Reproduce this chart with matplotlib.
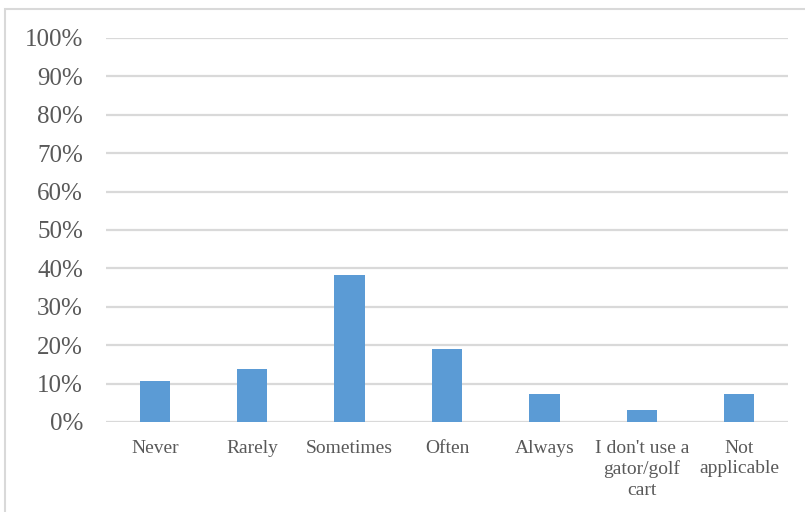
import matplotlib
matplotlib.use("Agg")
import matplotlib.pyplot as plt
from matplotlib.patches import Rectangle
from matplotlib.ticker import FuncFormatter

categories = ["Never", "Rarely", "Sometimes", "Often", "Always",
              "I don't use a\ngator/golf\ncart", "Not\napplicable"]
values = [10.6, 13.8, 38.3, 19.1, 7.4, 3.2, 7.4]
yticks = [0, 10, 20, 30, 40, 50, 60, 70, 80, 90, 100]

plt.rcParams['font.family'] = ['Liberation Serif', 'DejaVu Serif']
text_color = "#595959"
grid_color = "#d9d9d9"

fig = plt.figure(figsize=(8.05, 5.12), dpi=100)
ax = fig.add_axes([106/805, (512-422)/512, (788-106)/805, (422-38)/512])

x = list(range(len(categories)))
ax.bar(x, values, width=0.31, color="#5B9BD5", zorder=3)

ax.set_xlim(-0.5, len(categories) - 0.5)
ax.set_ylim(0, 100)
ax.set_yticks(yticks)
ax.yaxis.set_major_formatter(FuncFormatter(lambda v, p: f"{int(v)}%"))
ax.set_xticks(x)
ax.set_xticklabels(categories, fontsize=14, color=text_color, linespacing=1.25)
for lab in ax.get_yticklabels():
    lab.set_fontsize(18)
    lab.set_color(text_color)
ax.tick_params(axis='y', length=0, pad=16.5)
ax.tick_params(axis='x', length=0, pad=13)
ax.yaxis.grid(True, color=grid_color, linewidth=1.6, zorder=0)
ax.set_axisbelow(True)
for s in ax.spines.values():
    s.set_visible(False)

# outer chart border
fig.patches.append(Rectangle((5/805, -0.1), 1.2, 1.1 - 9/512,
                             transform=fig.transFigure, fill=False,
                             edgecolor=grid_color, linewidth=1.5, clip_on=False))

fig.savefig("out.png", dpi=100)
